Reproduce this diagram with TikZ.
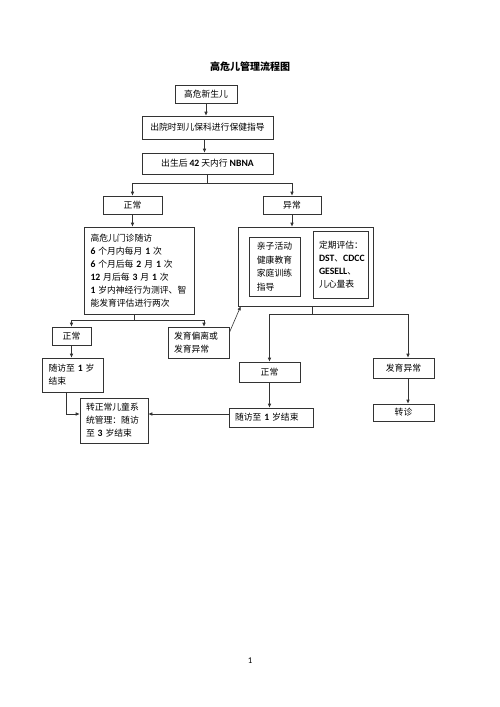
\documentclass[tikz,border=0pt]{standalone}
\usepackage{fontspec}
\setmainfont[Scale=1.1]{Carlito}
\newfontfamily\cjk{Noto Sans CJK SC}
\usetikzlibrary{arrows.meta, calc}
\newcommand{\en}[1]{{\normalfont\bfseries #1}}
\tikzset{
  box/.style={draw=black!80, line width=0.6pt, inner sep=0pt, font=\cjk\fontsize{8.8}{13}\selectfont},
  lbox/.style={box, align=left, inner xsep=6pt},
  line/.style={draw=black!80, line width=0.6pt},
  arr/.style={line, -{Latex[length=4pt,width=3.6pt]}}
}
\begin{document}
\begin{tikzpicture}[x=1pt, y=-1pt]
\useasboundingbox (0,0) rectangle (500,707);
\node[font=\cjk\bfseries\fontsize{10}{12}\selectfont] (title) at (250,67) {高危儿管理流程图};
\node[box, minimum width=62, minimum height=18] (newborn) at (206,94) {高危新生儿};
\node[box, minimum width=131, minimum height=23] (discharge) at (207.5,127.5) {出院时到儿保科进行保健指导};
\node[box, minimum width=131, minimum height=21] (nbna) at (207.5,163.5) {出生后~\en{42}~天内行~\en{NBNA}};
\node[box, minimum width=59, minimum height=18] (normalA) at (132.5,205) {正常};
\node[box, minimum width=58, minimum height=18] (abnormalA) at (292,205) {异常};

%% left branch
\node[lbox, text width=98, minimum width=110, minimum height=87] (clinic) at (139.5,270.5) {高危儿门诊随访\\\en{6}~个月内每月~\en{1}~次\\\en{6}~个月后每~\en{2}~月~\en{1}~次\\\en{12}~月后每~\en{3}~月~\en{1}~次\\\en{1}~岁内神经行为测评、智\\能发育评估进行两次};
\node[box, minimum width=39, minimum height=18] (normalB) at (71.5,336) {正常};
\node[lbox, text width=49, minimum width=61, minimum height=31] (deviate) at (198.5,342.5) {发育偏离或\\发育异常};
\node[lbox, text width=49, minimum width=61, minimum height=34] (followA) at (73,375) {随访至~\en{1}~岁\\结束};
\node[lbox, text width=56, minimum width=68, minimum height=45] (transfer) at (114,420.5) {转正常儿童系\\统管理：随访\\至~\en{3}~岁结束};

%% right branch
\node[box, minimum width=135, minimum height=79] (care) at (305.5,266.5) {};
\node[box, align=left, minimum width=51, minimum height=59, font=\cjk\fontsize{8.8}{13.5}\selectfont] (homecare) at (274.5,266.5) {亲子活动\\健康教育\\家庭训练\\指导};
\node[lbox, text width=43, minimum width=55, minimum height=67] (assess) at (340.5,264.5) {定期评估：\\\en{DST}、\en{CDCC}\\\en{GESELL}、\\儿心量表};
\node[box, minimum width=61, minimum height=20] (normalC) at (269.5,372) {正常};
\node[lbox, text width=72, minimum width=84, minimum height=19] (followB) at (271,417.5) {随访至~\en{1}~岁结束};
\node[box, minimum width=61, minimum height=20] (abnormalB) at (403.5,368) {发育异常};
\node[box, minimum width=61, minimum height=17] (referral) at (403.5,412.5) {转诊};

\node[font=\fontsize{8}{10}\selectfont] (page) at (250,661) {1};

%% top column
\draw[arr] (newborn.south) -- (newborn.south |- discharge.north);
\draw[arr] ([xshift=-3pt]discharge.south) -- ([xshift=-3pt]nbna.north);
\coordinate (splitA) at (207.5,183);
\draw[line] (nbna.south) -- (splitA);
\draw[arr] (splitA) -| (normalA.north);
\draw[arr] (splitA) -| (abnormalA.north);
\draw[arr] (normalA.south) -- (normalA.south |- clinic.north);
\draw[arr] (abnormalA.south) -- (abnormalA.south |- care.north);

%% clinic outcomes
\coordinate (splitB) at (134,320);
\draw[line] (clinic.south -| splitB) -- (splitB);
\draw[arr] (splitB) -| (normalB.north);
\draw[arr] (splitB) -| ([xshift=5.5pt]deviate.north);
\draw[arr] ([yshift=-6pt]deviate.north east) -- ([xshift=3pt]care.south west);
\draw[arr] (normalB.south) -- (normalB.south |- followA.north);
\draw[arr] ([xshift=-7pt]followA.south) |- ([yshift=6.5pt]transfer.west);
\draw[arr] ([yshift=3.5pt]followB.west) -- ([yshift=6.5pt]transfer.east);

%% care outcomes
\coordinate (splitC) at (312,314);
\draw[line] (care.south -| splitC) -- (splitC);
\draw[arr] (splitC) -| (normalC.north);
\draw[arr] (splitC) -| ([xshift=4.5pt]abnormalB.north);
\draw[arr] (normalC.south) -- (normalC.south |- followB.north);
\draw[arr] ([xshift=4.5pt]abnormalB.south) -- ([xshift=4.5pt]referral.north);
\end{tikzpicture}
\end{document}
